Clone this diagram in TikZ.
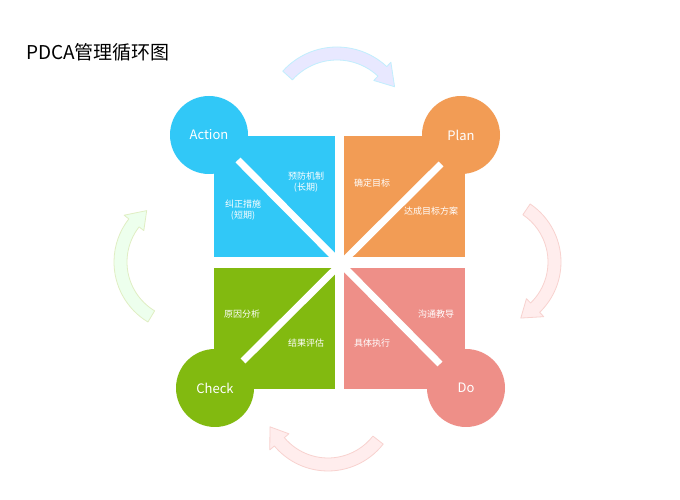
\documentclass[tikz,border=0pt]{standalone}
\usepackage{fontspec}
\setmainfont{Noto Sans CJK SC}
\definecolor{cA}{RGB}{49,200,247}
\definecolor{cP}{RGB}{242,156,85}
\definecolor{cC}{RGB}{130,186,16}
\definecolor{cD}{RGB}{238,143,136}
\newcommand{\blockarc}[9]{%
  \path[fill=#8,draw=#9,line width=0.8pt,line join=round] (#1,#2) ++(#5:#3) arc[start angle=#5,end angle=#6,radius=#3]
   -- ($(#1,#2)+(#6:#3+6)$) -- ($(#1,#2)+(#7:#3/2+#4/2)$) -- ($(#1,#2)+(#6:#4-6)$) -- ($(#1,#2)+(#6:#4)$)
   arc[start angle=#6,end angle=#5,radius=#4] -- cycle;}
\usetikzlibrary{calc}
\tikzset{sq/.style={draw=none,minimum size=121pt,inner sep=0pt},
 circ/.style={circle,minimum size=78pt,inner sep=0pt,text=white,font=\fontsize{13pt}{15pt}\selectfont},
 lab/.style={text=white,font=\fontsize{9pt}{11pt}\selectfont,inner sep=0pt,align=center},
 bar/.style={white,line width=7pt}}
\begin{document}
\begin{tikzpicture}[x=1pt,y=1pt]
\useasboundingbox[fill=white] (0,0) rectangle (680,500);
\node[anchor=west,font=\fontsize{19pt}{22pt}\selectfont,inner sep=0pt] (title) at (26,448) {PDCA管理循环图};
% arrows
\blockarc{337}{380}{73}{60}{138}{47}{30}{blue!9}{cA!30}
\blockarc{491}{238}{70}{57}{56}{-46}{-62}{red!7}{cD!40}
\blockarc{328}{99}{70}{57}{-38}{-140}{-156}{red!7}{cD!40}
\blockarc{184}{238}{70}{57}{239}{142}{126}{green!7!white}{cC!25}
% squares
\node[sq,fill=cA] (sA) at (274.5,303.5) {};
\node[sq,fill=cP] (sP) at (404,303.5) {};
\node[sq,fill=cC] (sC) at (274.5,171.5) {};
\node[sq,fill=cD] (sD) at (404,171.5) {};
% circles
\node[circ,fill=cA] (Action) at (209,365) {Action};
\node[circ,fill=cP] (Plan) at (461,365) {Plan};
\node[circ,fill=cC] (Check) at (215,112) {Check};
\node[circ,fill=cD] (Do) at (466,112) {Do};
% bars
\coordinate (b1) at (238,340); \coordinate (b2) at (440,136);
\coordinate (b3) at (441,336); \coordinate (b4) at (243,139);
\draw[bar] (b1) -- (b2);
\draw[bar] (b3) -- (b4);
% labels
\node[lab] (t1) at (306,318) {预防机制\\(长期)};
\node[lab] (t2) at (243,290) {纠正措施\\(短期)};
\node[lab] (t3) at (372,317) {确定目标};
\begin{scope}
\clip (343,136) rectangle (465,364);
\node[lab,anchor=west] (t4) at (404,289) {达成目标方案};
\end{scope}
\node[lab] (t5) at (242,186) {原因分析};
\node[lab] (t6) at (306,157) {结果评估};
\node[lab] (t7) at (436,186) {沟通教导};
\node[lab] (t8) at (372,157) {具体执行};
\end{tikzpicture}
\end{document}
